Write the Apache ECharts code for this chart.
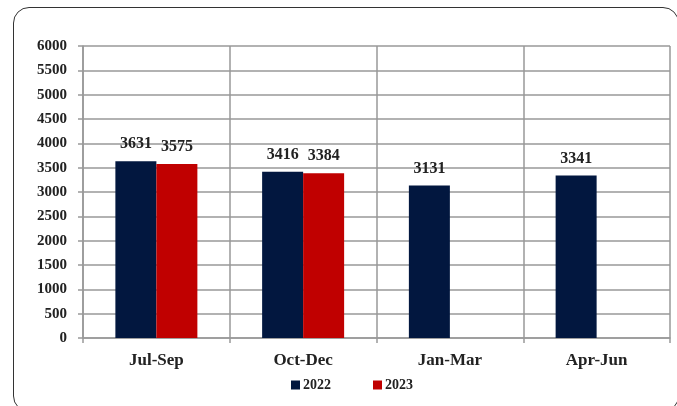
<!DOCTYPE html>
<html>
<head>
<meta charset="utf-8">
<script src="https://cdn.jsdelivr.net/npm/echarts@6/dist/echarts.min.js"></script>
<style>
  html, body { margin: 0; padding: 0; background: #fff; }
  #frame {
    position: absolute; left: 13px; top: 7px; width: 666px; height: 405px;
    border: 1.5px solid #333; border-radius: 16px; box-sizing: border-box;
  }
  #chart { position: absolute; left: 0; top: 0; width: 677px; height: 406px; }
</style>
</head>
<body>
<div id="frame"></div>
<div id="chart"></div>
<script>
var categories = ['Jul-Sep', 'Oct-Dec', 'Jan-Mar', 'Apr-Jun']
var values2022 = [3631, 3416, 3131, 3341]
var values2023 = [3575, 3384, null, null]

var font = '"Liberation Serif", "DejaVu Serif", serif'
var chart = echarts.init(document.getElementById('chart'))

chart.setOption({
  animation: false,
  grid: { left: 83, right: 7, top: 46, bottom: 68 },
  legend: {
    bottom: 9,
    left: 286,
    itemWidth: 9,
    itemHeight: 9,
    itemGap: 42,
    icon: 'rect',
    textStyle: { fontFamily: font, fontWeight: 'bold', fontSize: 14, color: '#222', padding: [0, 0, 0, -2] },
    data: ['2022', '2023']
  },
  xAxis: {
    type: 'category',
    data: categories,
    axisLine: { lineStyle: { color: '#999', width: 1.5 } },
    axisTick: { show: true, length: 5, lineStyle: { color: '#999', width: 1.5 } },
    splitLine: { show: true, lineStyle: { color: '#999', width: 1.5 } },
    axisLabel: { margin: 14, fontFamily: font, fontWeight: 'bold', fontSize: 17, color: '#222' }
  },
  yAxis: {
    type: 'value',
    min: 0,
    max: 6000,
    interval: 500,
    axisLine: { show: true, lineStyle: { color: '#999', width: 1.5 } },
    axisTick: { show: true, length: 5, lineStyle: { color: '#999', width: 1.5 } },
    splitLine: { lineStyle: { color: '#999', width: 1.5 } },
    axisLabel: {
      margin: 16, fontFamily: font, fontWeight: 'bold', fontSize: 15, color: '#222',
      formatter: function(v) { return String(v) }
    }
  },
  series: [
    {
      name: '2022',
      type: 'bar',
      data: values2022,
      barWidth: 41,
      barGap: '0%',
      itemStyle: { color: '#02173f' },
      label: { show: true, position: 'top', distance: 9, fontFamily: font, fontWeight: 'bold', fontSize: 16, color: '#222' }
    },
    {
      name: '2023',
      type: 'bar',
      data: values2023,
      barWidth: 41,
      barGap: '0%',
      itemStyle: { color: '#c00000' },
      label: { show: true, position: 'top', distance: 9, fontFamily: font, fontWeight: 'bold', fontSize: 16, color: '#222' }
    }
  ]
})
</script>
</body>
</html>
